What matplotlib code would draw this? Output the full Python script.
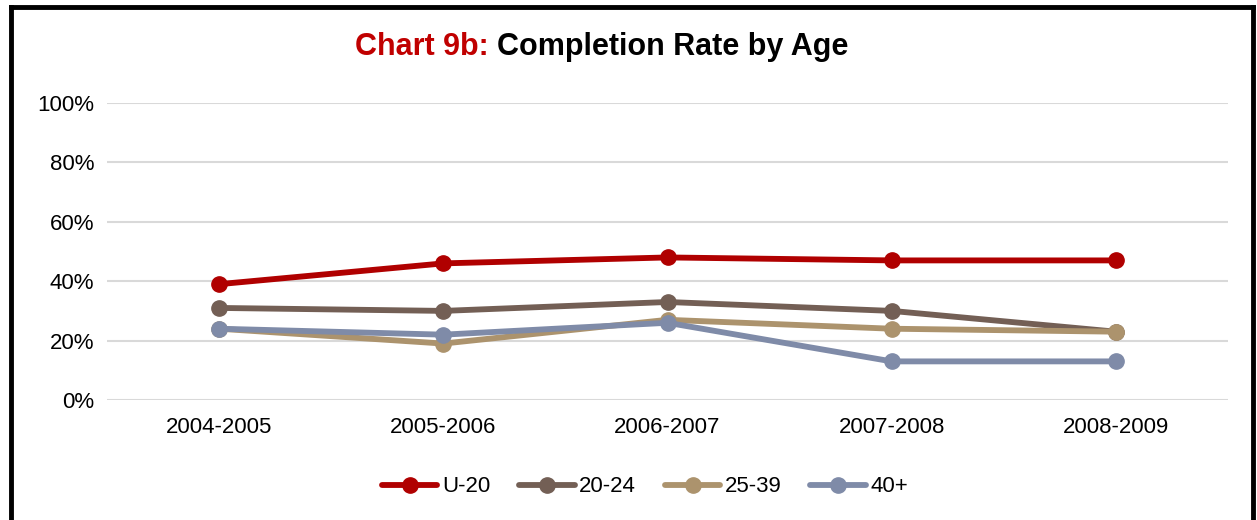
import matplotlib
matplotlib.use("Agg")
import matplotlib.pyplot as plt
from matplotlib import font_manager
from matplotlib.lines import Line2D

# ---- data ----
years = ["2004-2005", "2005-2006", "2006-2007", "2007-2008", "2008-2009"]
u20 = [39, 46, 48, 47, 47]
a20_24 = [31, 30, 33, 30, 23]
a25_39 = [24, 19, 27, 24, 23]
a40p = [24, 22, 26, 13, 13]
series = [("U-20", u20, "#B00000"),
          ("20-24", a20_24, "#735F55"),
          ("25-39", a25_39, "#AC936D"),
          ("40+", a40p, "#7F8BA8")]
yticks = [0, 20, 40, 60, 80, 100]

names = {f.name for f in font_manager.fontManager.ttflist}
FONT = "Liberation Sans Narrow" if "Liberation Sans Narrow" in names else "Liberation Sans"
plt.rcParams['font.family'] = [FONT, 'DejaVu Sans']

W, H = 1257, 520
fig = plt.figure(figsize=(W / 100, H / 100), dpi=100)
ax = fig.add_axes([107/W, 1 - 400/H, 1121/W, 297/H])

x = range(len(years))
for label, vals, col in series:
    ax.plot(x, vals, color=col, linewidth=4.2, marker='o', markersize=11,
            solid_capstyle='round', label=label, zorder=3)

ax.set_xlim(-0.5, len(years) - 0.5)
ax.set_ylim(0, 100)
ax.set_yticks(yticks)
ax.set_yticklabels([f"{v}%" for v in yticks], fontsize=16)
ax.set_xticks(list(x))
ax.set_xticklabels(years, fontsize=16)
ax.tick_params(axis='x', length=0, pad=12)
ax.tick_params(axis='y', length=0, pad=9)
ax.grid(True, axis='y', color='#D9D9D9', linewidth=1.5, zorder=0)
for s in ax.spines.values():
    s.set_visible(False)

# title in two colours
t1 = fig.text(355/W, 1 - 47/H, "Chart 9b: ", color="#C00000", fontsize=22,
              fontweight='bold', va='center', ha='left')
fig.canvas.draw()
bb = t1.get_window_extent()
fig.text(bb.x1 / fig.bbox.width, 1 - 47/H, "Completion Rate by Age", color="black",
         fontsize=22, fontweight='bold', va='center', ha='left')

leg = ax.legend(loc='center', bbox_to_anchor=((645 - 107) / 1121, -(487 - 400) / 297),
                ncol=4, frameon=False, fontsize=16, handlelength=2.5,
                handletextpad=0.2, columnspacing=1.3)

# outer frame: left, top, right
fig.add_artist(Line2D([11/W, 11/W], [0, 1 - 7/H], color='black', linewidth=3.5,
                      transform=fig.transFigure))
fig.add_artist(Line2D([11/W, 1253/W], [1 - 7/H, 1 - 7/H], color='black', linewidth=3.5,
                      transform=fig.transFigure))
fig.add_artist(Line2D([1253/W, 1253/W], [0, 1 - 7/H], color='black', linewidth=3.5,
                      transform=fig.transFigure))

fig.savefig("out.png", dpi=100)
